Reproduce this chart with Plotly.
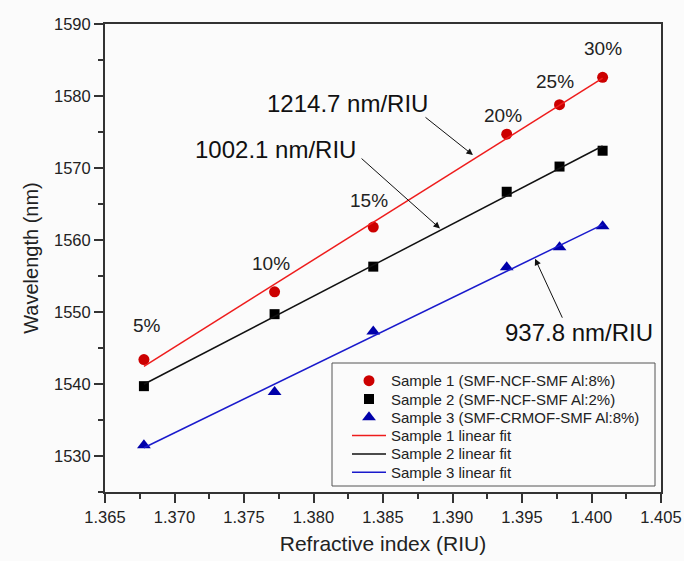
import numpy as np
import plotly.graph_objects as go

# ---- data ----
ri = [1.3678, 1.3772, 1.3843, 1.3939, 1.3977, 1.4008]
s1 = [1543.4, 1552.8, 1561.8, 1574.7, 1578.8, 1582.6]
s2 = [1539.7, 1549.7, 1556.3, 1566.7, 1570.2, 1572.4]
s3 = [1531.5, 1538.9, 1547.3, 1556.2, 1559.0, 1561.9]
pct_labels = ["5%", "10%", "15%", "20%", "25%", "30%"]
names = ["Sample 1 (SMF-NCF-SMF Al:8%)", "Sample 2 (SMF-NCF-SMF Al:2%)",
         "Sample 3 (SMF-CRMOF-SMF Al:8%)"]
fit_names = ["Sample 1 linear fit", "Sample 2 linear fit", "Sample 3 linear fit"]
sens_labels = ["1214.7 nm/RIU", "1002.1 nm/RIU", "937.8 nm/RIU"]

FONT = "Liberation Sans, Arial, sans-serif"
TXT = "#222222"
BG = "#fbfbfb"

W, H = 684, 561
ML, MR, MT, MB = 105, 23, 24, 69
PW, PH = W - ML - MR, H - MT - MB


def px_to_paper(px, py):
    return (px - ML) / PW, (H - MB - py) / PH


x = np.array(ri)
fig = go.Figure()

marker_styles = [
    dict(symbol="circle", size=11, color="#cc0000"),
    dict(symbol="square", size=10, color="#000000"),
    dict(symbol="triangle-up", size=12, color="#0000aa"),
]
line_colors = ["#ee1c1c", "#111111", "#1a1acc"]
series = [s1, s2, s3]

for s, n, m in zip(series, names, marker_styles):
    fig.add_trace(go.Scatter(x=ri, y=s, mode="markers", name=n, marker=m))

for s, n, c in zip(series, fit_names, line_colors):
    k, b = np.polyfit(x, np.array(s), 1)
    xf = np.array([x.min(), x.max()])
    fig.add_trace(go.Scatter(x=xf, y=k * xf + b, mode="lines", name=n,
                             line=dict(color=c, width=1.5)))

# percentage labels above sample 1 points
pct_dx = [3, -4, -4, -4, -5, 0]
pct_dy = [34, 28, 27, 19, 23, 29]
annotations = []
for xi, yi, t, dx, dy in zip(ri, s1, pct_labels, pct_dx, pct_dy):
    annotations.append(dict(x=xi, y=yi, text=t, showarrow=False, xshift=dx, yshift=dy,
                            font=dict(family=FONT, size=19, color=TXT)))

# sensitivity labels (text position in data units, arrow tail/tip)
sens_text_pos = [(1.38248, 1579.0), (1.37730, 1572.6), (1.39910, 1547.2)]
arrow_tail = [(1.38795, 1577.2), (1.38335, 1571.5), (1.39795, 1549.0)]
arrow_tip = [(1.39147, 1571.8), (1.38910, 1561.6), (1.39594, 1557.4)]
for t, (tx, ty), (ax, ay), (hx, hy) in zip(sens_labels, sens_text_pos, arrow_tail, arrow_tip):
    annotations.append(dict(x=tx, y=ty, text=t, showarrow=False,
                            font=dict(family=FONT, size=24, color="#111111")))
    annotations.append(dict(x=hx, y=hy, ax=ax, ay=ay, axref="x", ayref="y", text="",
                            showarrow=True, arrowhead=2, arrowsize=1.3, arrowwidth=1,
                            arrowcolor="#111111", standoff=0, startstandoff=0))

# ---- hand-built legend box (compact row spacing like the original) ----
shapes = []
bx0, by0 = px_to_paper(332, 486)
bx1, by1 = px_to_paper(655, 363)
shapes.append(dict(type="rect", xref="paper", yref="paper", x0=bx0, x1=bx1, y0=by0, y1=by1,
                   line=dict(color="#555555", width=1), fillcolor="rgba(0,0,0,0)"))
row0, row_gap = 380.7, 18.3
sym_cx, line_x0, line_x1, text_x = 369, 352, 386, 389
legend_labels = names + fit_names
for i, lab in enumerate(legend_labels):
    ry = row0 + i * row_gap
    tx, ty = px_to_paper(text_x, ry)
    annotations.append(dict(xref="paper", yref="paper", x=tx, y=ty, xanchor="left",
                            yanchor="middle", text=lab, showarrow=False,
                            font=dict(family=FONT, size=15, color=TXT)))
    cx, cy = px_to_paper(sym_cx, ry)
    if i < 3:
        m = marker_styles[i]
        common = dict(xref="paper", yref="paper", xsizemode="pixel", ysizemode="pixel",
                      xanchor=cx, yanchor=cy, fillcolor=m["color"], line=dict(width=0))
        r = m["size"] / 2
        if m["symbol"] == "circle":
            shapes.append(dict(type="circle", x0=-r, x1=r, y0=-r, y1=r, **common))
        elif m["symbol"] == "square":
            shapes.append(dict(type="rect", x0=-r, x1=r, y0=-r, y1=r, **common))
        else:
            rt = r * 2 / np.sqrt(3)
            shapes.append(dict(type="path",
                               path=f"M {-rt:.2f},{-r/2:.2f} L {rt:.2f},{-r/2:.2f} L 0,{r:.2f} Z",
                               **common))
    else:
        lx0, ly = px_to_paper(line_x0, ry)
        lx1, _ = px_to_paper(line_x1, ry)
        shapes.append(dict(type="line", xref="paper", yref="paper", x0=lx0, x1=lx1,
                           y0=ly, y1=ly, line=dict(color=line_colors[i - 3], width=1.5)))

fig.update_layout(
    width=W, height=H,
    margin=dict(l=ML, r=MR, t=MT, b=MB),
    paper_bgcolor=BG, plot_bgcolor=BG,
    font=dict(family=FONT, color=TXT),
    showlegend=False,
    annotations=annotations,
    shapes=shapes,
)

axis_common = dict(showline=True, linecolor="#333333", linewidth=2, mirror=True,
                   ticks="outside", ticklen=9, tickwidth=1.5, tickcolor="#333333",
                   showgrid=False, zeroline=False, automargin=False,
                   tickfont=dict(family=FONT, size=16.5, color=TXT))

fig.update_xaxes(range=[1.365, 1.405], dtick=0.005, tick0=1.365, tickformat=".3f",
                 minor=dict(dtick=0.0025, ticks="outside", ticklen=5, tickcolor="#333333"),
                 title=dict(text="Refractive index (RIU)", standoff=12,
                            font=dict(family=FONT, size=21, color=TXT)),
                 **axis_common)
fig.update_yaxes(range=[1525, 1590], dtick=10, tick0=1530,
                 minor=dict(dtick=5, ticks="outside", ticklen=5, tickcolor="#333333"),
                 title=dict(text="Wavelength (nm)", standoff=10,
                            font=dict(family=FONT, size=20, color=TXT)),
                 **axis_common)

# remove the default page margin so the figure fills the window exactly
fig.write_html("out.html",
               config=dict(displayModeBar=False),
               post_script=f"document.body.style.margin='0';"
                           f"document.body.style.background='{BG}';")
